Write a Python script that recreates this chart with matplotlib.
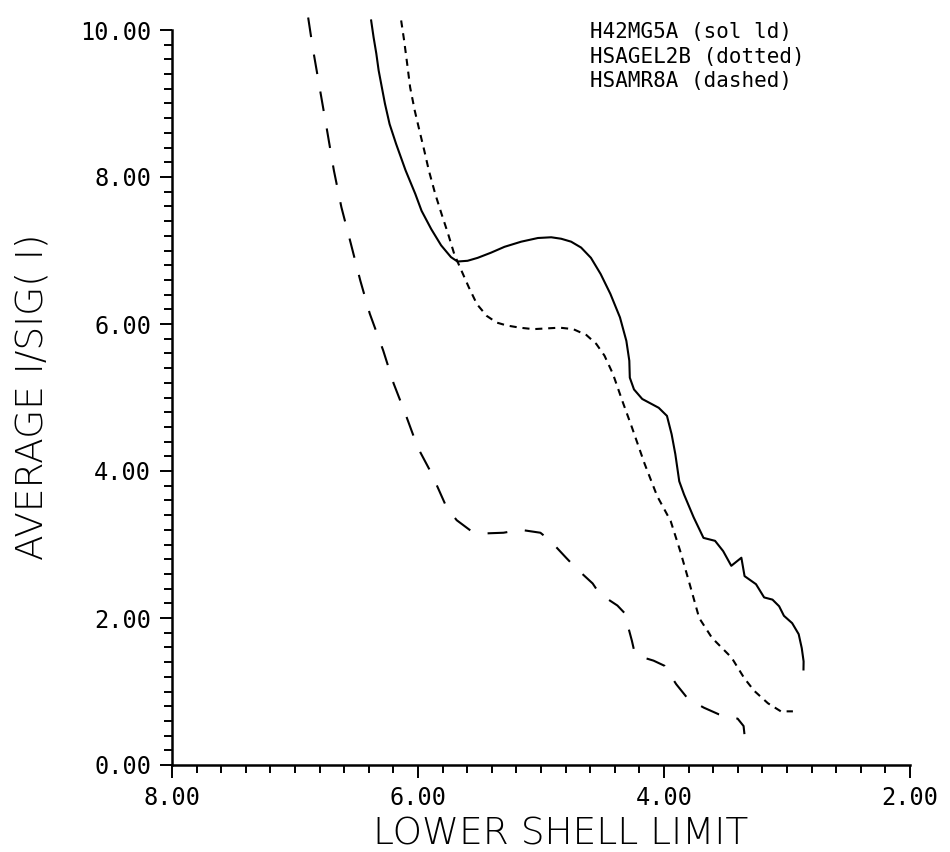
import matplotlib
matplotlib.use('Agg')
import matplotlib.pyplot as plt
from matplotlib.ticker import MultipleLocator, FormatStrFormatter

# ----- Data -----

# H42MG5A (solid)
solid_x = [6.381, 6.361, 6.339, 6.320, 6.294, 6.269, 6.231, 6.178, 6.101, 6.022,
           5.971, 5.892, 5.812, 5.732, 5.679, 5.597, 5.515, 5.407, 5.297, 5.161,
           5.025, 4.917, 4.836, 4.755, 4.674, 4.594, 4.515, 4.436, 4.358, 4.306,
           4.282, 4.278, 4.244, 4.177, 4.043, 3.976, 3.938, 3.908, 3.876, 3.837,
           3.759, 3.679, 3.585, 3.519, 3.453, 3.371, 3.345, 3.252, 3.186, 3.118,
           3.064, 3.025, 2.958, 2.905, 2.880, 2.865, 2.866]
solid_y = [10.13, 9.90, 9.68, 9.45, 9.22, 9.00, 8.72, 8.45, 8.09, 7.77,
           7.54, 7.29, 7.07, 6.91, 6.85, 6.86, 6.90, 6.97, 7.05, 7.12,
           7.17, 7.18, 7.16, 7.12, 7.04, 6.90, 6.68, 6.41, 6.09, 5.77,
           5.50, 5.27, 5.11, 4.98, 4.86, 4.75, 4.50, 4.23, 3.86, 3.68,
           3.37, 3.09, 3.05, 2.91, 2.71, 2.82, 2.57, 2.46, 2.28, 2.25,
           2.16, 2.03, 1.93, 1.78, 1.59, 1.41, 1.30]

# HSAGEL2B (dotted)
dotted_x = [6.137, 6.113, 6.088, 6.064, 6.026, 5.988, 5.949, 5.912, 5.860, 5.809,
            5.756, 5.705, 5.653, 5.587, 5.521, 5.441, 5.361, 5.279, 5.172, 5.063,
            4.955, 4.847, 4.738, 4.631, 4.551, 4.484, 4.415, 4.338, 4.260, 4.158,
            4.056, 3.946, 3.868, 3.791, 3.714, 3.610, 3.450, 3.347, 3.267, 3.155,
            3.050, 2.952]
dotted_y = [10.13, 9.86, 9.54, 9.22, 8.90, 8.63, 8.36, 8.09, 7.77, 7.50,
            7.23, 6.95, 6.75, 6.50, 6.27, 6.11, 6.02, 5.98, 5.95, 5.93,
            5.94, 5.95, 5.93, 5.85, 5.73, 5.57, 5.32, 4.95, 4.59, 4.10,
            3.66, 3.32, 2.91, 2.46, 2.00, 1.73, 1.46, 1.18, 1.01, 0.84,
            0.73, 0.73]

# HSAMR8A (dashed)
dashed_x = [6.893, 6.856, 6.796, 6.743, 6.684, 6.623, 6.547, 6.469, 6.392, 6.283,
            6.198, 6.103, 6.002, 5.891, 5.766, 5.685, 5.573, 5.468, 5.305, 5.166,
            5.005, 4.924, 4.796, 4.716, 4.580, 4.524, 4.379, 4.322, 4.261, 4.246,
            4.223, 4.085, 3.996, 3.901, 3.805, 3.676, 3.555, 3.401, 3.353, 3.346]
dashed_y = [10.17, 9.76, 9.18, 8.67, 8.09, 7.59, 7.10, 6.59, 6.14, 5.64,
            5.19, 4.78, 4.32, 3.97, 3.50, 3.33, 3.19, 3.15, 3.16, 3.20,
            3.16, 3.05, 2.82, 2.68, 2.47, 2.33, 2.17, 2.07, 1.69, 1.58,
            1.49, 1.42, 1.35, 1.10, 0.90, 0.78, 0.69, 0.63, 0.53, 0.42]

legend_lines = ['H42MG5A (sol ld)', 'HSAGEL2B (dotted)', 'HSAMR8A (dashed)']

# ----- Plot -----
W, H = 950, 852
fig = plt.figure(figsize=(W / 100, H / 100), dpi=100)
ax = fig.add_axes([172 / W, 1 - 765 / H, 738 / W, 735 / H])

ax.plot(solid_x, solid_y, color='black', linewidth=1.5, clip_on=False)
ax.plot(dotted_x, dotted_y, color='black', linewidth=1.5, dashes=(3.4, 2.8), clip_on=False)
ax.plot(dashed_x, dashed_y, color='black', linewidth=1.5, dashes=(9.5, 8.5), clip_on=False)

ax.set_xlim(8, 2)
ax.set_ylim(0, 10)

# plotter style axes: only left and bottom lines, ticks pointing out
ax.spines['top'].set_visible(False)
ax.spines['right'].set_visible(False)
ax.spines['left'].set_linewidth(1.8)
ax.spines['bottom'].set_linewidth(1.8)

ax.xaxis.set_major_locator(MultipleLocator(2))
ax.xaxis.set_minor_locator(MultipleLocator(0.2))
ax.yaxis.set_major_locator(MultipleLocator(2))
ax.yaxis.set_minor_locator(MultipleLocator(0.2))
ax.xaxis.set_major_formatter(FormatStrFormatter('%.2f'))
ax.yaxis.set_major_formatter(FormatStrFormatter('%.2f'))

ax.tick_params(which='major', direction='out', length=9, width=1.4, pad=6)
ax.tick_params(which='minor', direction='out', length=5.5, width=1.4)
for lab in ax.get_xticklabels() + ax.get_yticklabels():
    lab.set_fontfamily('DejaVu Sans Mono')
    lab.set_fontsize(17)

# axis titles
fig.text(561 / W, 1 - 834 / H, 'LOWER SHELL LIMIT', ha='center', va='center',
         fontsize=27, family='DejaVu Sans', fontweight='light')
fig.text(32 / W, 1 - 397 / H, 'AVERAGE I/SIG( I)', ha='center', va='center',
         rotation=90, fontsize=27, family='DejaVu Sans', fontweight='light')

# legend text in the top right corner
for i, line in enumerate(legend_lines):
    fig.text(590 / W, 1 - (22 + 24.5 * i) / H, line, ha='left', va='top',
             fontsize=15, family='DejaVu Sans Mono')

plt.savefig('out.png', dpi=100)
